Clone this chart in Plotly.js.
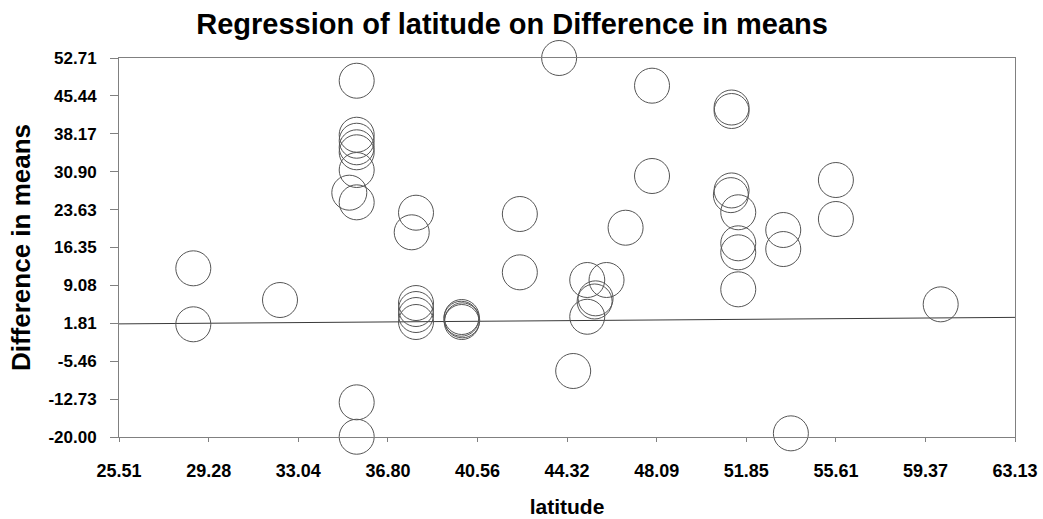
<!DOCTYPE html>
<html>
<head>
<meta charset="utf-8">
<script src="https://cdn.plot.ly/plotly-3.0.1.min.js"></script>
<style>html,body{margin:0;padding:0;background:#fff;}#chart{width:1043px;height:519px;}</style>
</head>
<body>
<div id="chart"></div>
<script>
// Observed points: latitude vs Difference in means
const latitude = [28.63, 28.63, 32.27, 35.49, 35.49, 35.49, 35.49, 35.49, 35.49, 35.18,
                  35.49, 35.49, 35.49, 37.98, 37.80, 37.98, 37.98, 37.98, 37.98, 39.90,
                  39.88, 39.92, 39.90, 42.34, 42.34, 43.99, 44.58, 45.17, 45.98, 45.52,
                  45.48, 45.17, 46.78, 47.89, 47.89, 51.23, 51.23, 51.23, 51.20, 51.51,
                  51.51, 51.51, 51.51, 53.40, 53.40, 53.72, 55.61, 55.61, 60.01];
const diffMeans = [12.36, 1.62, 6.28, 48.35, 37.99, 36.84, 35.58, 34.62, 31.22, 26.87,
                   25.02, -13.35, -19.95, 23.03, 19.27, 5.70, 4.55, 3.40, 2.06, 3.02,
                   2.69, 2.38, 2.06, 22.78, 11.59, 52.71, -7.34, 10.12, 10.12, 6.60,
                   6.00, 3.07, 20.15, 47.40, 30.07, 43.21, 42.54, 27.30, 26.40, 23.11,
                   17.16, 15.43, 8.33, 19.71, 16.06, -19.30, 29.30, 21.82, 5.45];

// Regression line end points
const regX = [25.51, 63.13];
const regY = [1.70, 2.95];

// Axis ticks
const xTicks = [25.51, 29.28, 33.04, 36.80, 40.56, 44.32, 48.09, 51.85, 55.61, 59.37, 63.13];
const xTickLabels = ["25.51", "29.28", "33.04", "36.80", "40.56", "44.32", "48.09", "51.85", "55.61", "59.37", "63.13"];
const yTicks = [-20.00, -12.73, -5.46, 1.81, 9.08, 16.35, 23.63, 30.90, 38.17, 45.44, 52.71];
const yTickLabels = ["-20.00", "-12.73", "-5.46", "1.81", "9.08", "16.35", "23.63", "30.90", "38.17", "45.44", "52.71"];

const FONT = "Arial, 'Liberation Sans', sans-serif";

const traces = [
  {
    x: regX, y: regY, type: 'scatter', mode: 'lines',
    line: {color: '#3a3a3a', width: 1}, hoverinfo: 'skip', showlegend: false
  },
  {
    x: latitude, y: diffMeans, type: 'scatter', mode: 'markers',
    cliponaxis: false,
    marker: {symbol: 'circle', size: 35, color: 'rgba(0,0,0,0)',
             line: {color: '#555555', width: 1}},
    showlegend: false
  }
];

const layout = {
  width: 1043, height: 519,
  margin: {l: 119, r: 28, t: 58, b: 82},
  paper_bgcolor: '#ffffff', plot_bgcolor: '#ffffff',
  font: {family: FONT, color: '#000'},
  title: {
    text: 'Regression of latitude on Difference in means',
    font: {family: FONT, size: 29, weight: 'bold', color: '#000'},
    x: 0.491, xref: 'container', xanchor: 'center',
    y: 0.955, yref: 'container', yanchor: 'middle'
  },
  xaxis: {
    range: [25.51, 63.13],
    tickmode: 'array', tickvals: xTicks, ticktext: xTickLabels,
    ticks: 'outside', ticklen: 4, tickcolor: '#808080', tickwidth: 1,
    ticklabelstandoff: 13,
    tickfont: {family: FONT, size: 18, weight: 'bold', color: '#000'},
    showgrid: false, zeroline: false,
    showline: true, linecolor: '#808080', linewidth: 1, mirror: true,
    title: {text: 'latitude', font: {family: FONT, size: 21, weight: 'bold', color: '#000'}, standoff: 19}
  },
  yaxis: {
    range: [-20.00, 52.71],
    tickmode: 'array', tickvals: yTicks, ticktext: yTickLabels,
    ticks: 'outside', ticklen: 8, tickcolor: '#808080', tickwidth: 1,
    ticklabelstandoff: 10,
    tickfont: {family: FONT, size: 17, weight: 'bold', color: '#000'},
    showgrid: false, zeroline: false,
    showline: true, linecolor: '#808080', linewidth: 1, mirror: true,
    title: {text: 'Difference in means', font: {family: FONT, size: 26, weight: 'bold', color: '#000'}, standoff: 10}
  },
  showlegend: false
};

Plotly.newPlot('chart', traces, layout, {displayModeBar: false, staticPlot: true});
</script>
</body>
</html>
